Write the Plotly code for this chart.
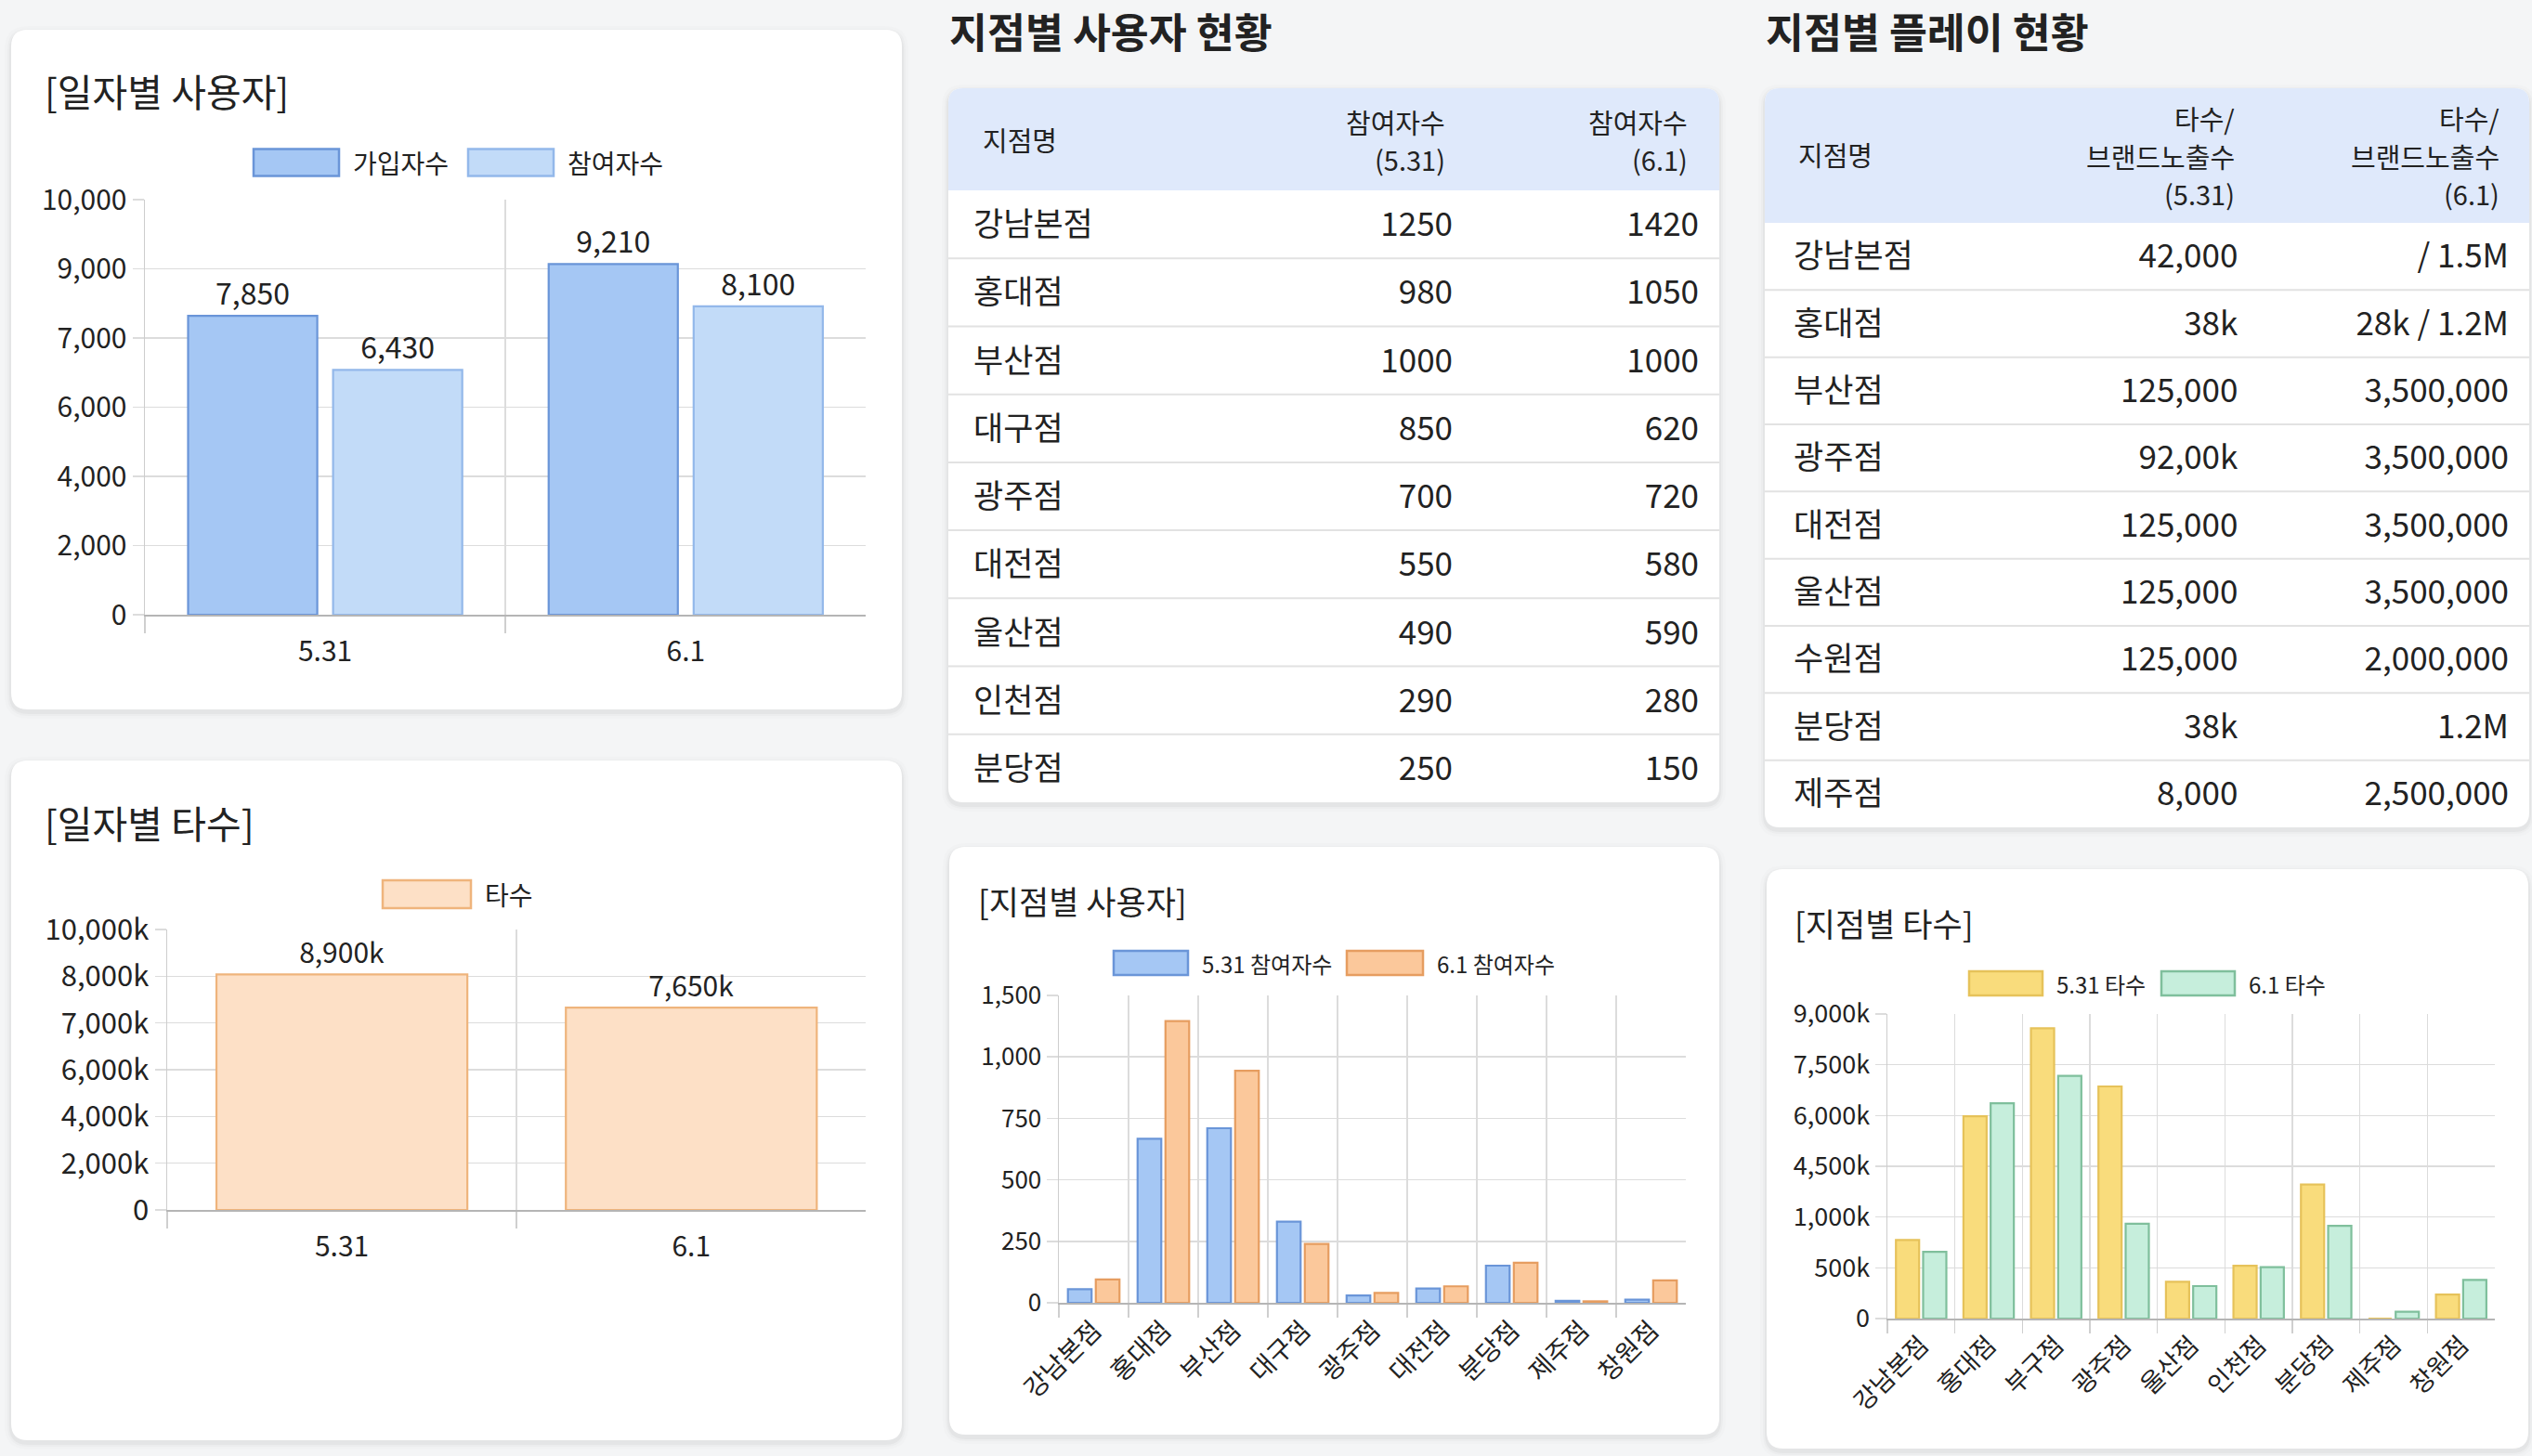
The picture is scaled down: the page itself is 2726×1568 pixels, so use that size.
import numpy as np
import plotly.graph_objects as go

W, H = 2726, 1568
FONT = "Noto Sans CJK KR"
TXT = "#222222"

# ---------------- data ----------------
daily_dates = ["5.31", "6.1"]
daily_signups = [7850, 9210]
daily_participants = [6430, 8100]
daily_users_ticktext = ["0", "2,000", "4,000", "6,000", "7,000", "9,000", "10,000"]

daily_strokes_k = [8900, 7650]
daily_strokes_ticktext = ["0", "2,000k", "4,000k", "6,000k", "7,000k", "8,000k", "10,000k"]

t1_branches = ["강남본점", "홍대점", "부산점", "대구점", "광주점", "대전점", "울산점", "인천점", "분당점"]
t1_part_531 = [1250, 980, 1000, 850, 700, 550, 490, 290, 250]
t1_part_61 = [1420, 1050, 1000, 620, 720, 580, 590, 280, 150]
t1_headers = [["지점명"], ["참여자수", "(5.31)"], ["참여자수", "(6.1)"]]

t2_branches = ["강남본점", "홍대점", "부산점", "광주점", "대전점", "울산점", "수원점", "분당점", "제주점"]
t2_531 = ["42,000", "38k", "125,000", "92,00k", "125,000", "125,000", "125,000", "38k", "8,000"]
t2_61 = ["/ 1.5M", "28k / 1.2M", "3,500,000", "3,500,000", "3,500,000", "3,500,000", "2,000,000", "1.2M", "2,500,000"]
t2_headers = [["지점명"], ["타수/", "브랜드노출수", "(5.31)"], ["타수/", "브랜드노출수", "(6.1)"]]

bu_cats = ["강남본점", "홍대점", "부산점", "대구점", "광주점", "대전점", "분당점", "제주점", "창원점"]
bu_531 = [55, 667, 710, 330, 30, 58, 151, 8, 13]
bu_61 = [95, 1146, 944, 239, 40, 67, 163, 6, 91]
bu_ticktext = ["0", "250", "500", "750", "1,000", "1,500"]

bs_cats = ["강남본점", "홍대점", "부구점", "광주점", "울산점", "인천점", "분당점", "제주점", "창원점"]
bs_531_k = [2320, 5980, 8580, 6860, 1090, 1560, 3960, 0, 710]
bs_61_k = [1970, 6360, 7170, 2800, 960, 1520, 2740, 200, 1140]
bs_ticktext = ["0", "500k", "1,000k", "4,500k", "6,000k", "7,500k", "9,000k"]

# ---------------- styles ----------------
BLUE = dict(fill="#a5c7f4", line="#6a95d8")
LBLUE = dict(fill="#c2dbf8", line="#93b8ea")
ORANGE = dict(fill="#fbc89b", line="#e69d60")
PEACH = dict(fill="#fde0c6", line="#efb47c")
YELLOW = dict(fill="#f9dc7c", line="#e6c25a")
GREEN = dict(fill="#c6eedc", line="#7fbf9c")


def X(px):
    return px / W


def Y(py):
    return 1 - py / H


def rrect_path(x0, y0, x1, y1, r, top_only=False):
    L, R, T, B = X(x0), X(x1), Y(y0), Y(y1)
    rx, ry = r / W, r / H
    p = f"M {L+rx},{T} L {R-rx},{T} Q {R},{T} {R},{T-ry} "
    if top_only:
        p += f"L {R},{B} L {L},{B} "
    else:
        p += f"L {R},{B+ry} Q {R},{B} {R-rx},{B} L {L+rx},{B} Q {L},{B} {L},{B+ry} "
    p += f"L {L},{T-ry} Q {L},{T} {L+rx},{T} Z"
    return p


fig = go.Figure()
shapes = []
annotations = []


def card(x0, y0, x1, y1, r=18):
    for e, a in [(7, 0.012), (4, 0.02), (2, 0.03)]:
        shapes.append(dict(type="path", xref="paper", yref="paper", layer="below",
                           path=rrect_path(x0 - e, y0 - e + 3, x1 + e, y1 + e + 3, r + e),
                           fillcolor=f"rgba(0,0,0,{a})", line=dict(width=0)))
    shapes.append(dict(type="path", xref="paper", yref="paper", layer="below",
                       path=rrect_path(x0, y0, x1, y1, r), fillcolor="white",
                       line=dict(width=0)))


def text(x, y, s, size, bold=False, anchor="left"):
    annotations.append(dict(xref="paper", yref="paper", x=X(x), y=Y(y), text=(f"<b>{s}</b>" if bold else s),
                            showarrow=False, xanchor=anchor, yanchor="middle", align=anchor,
                            font=dict(family=FONT, size=size, color=TXT)))


def header_lines(x, ys, lines, size, anchor):
    for yy, s in zip(ys, lines):
        text(x, yy, s, size, anchor=anchor)


def legend_item(x0, x1, yc, h, style, label, size):
    shapes.append(dict(type="rect", xref="paper", yref="paper", layer="below",
                       x0=X(x0), x1=X(x1), y0=Y(yc + h / 2), y1=Y(yc - h / 2),
                       fillcolor=style["fill"], line=dict(color=style["line"], width=2.5)))
    text(x1 + 13, yc, label, size)


# cards
card(12, 32, 971, 764)
card(12, 819, 971, 1551)
card(1022, 912, 1851, 1545)
card(1902, 936, 2722, 1560)
card(1021, 95, 1851, 864, 16)
card(1900, 95, 2723, 891, 16)

# table header backgrounds & separators
shapes.append(dict(type="path", xref="paper", yref="paper", layer="below",
                   path=rrect_path(1021, 95, 1851, 205, 16, top_only=True),
                   fillcolor="#dfe9fb", line=dict(width=0)))
shapes.append(dict(type="path", xref="paper", yref="paper", layer="below",
                   path=rrect_path(1900, 95, 2723, 240, 16, top_only=True),
                   fillcolor="#dfe9fb", line=dict(width=0)))
ROW1 = (864 - 205) / 9
ROW2 = (891 - 240) / 9
for i in range(1, 9):
    yy = 205 + i * ROW1
    shapes.append(dict(type="line", xref="paper", yref="paper", layer="below",
                       x0=X(1021), x1=X(1851), y0=Y(yy), y1=Y(yy), line=dict(color="#e2e2e2", width=2)))
    yy = 240 + i * ROW2
    shapes.append(dict(type="line", xref="paper", yref="paper", layer="below",
                       x0=X(1900), x1=X(2723), y0=Y(yy), y1=Y(yy), line=dict(color="#e2e2e2", width=2)))

# headings / titles
text(1020, 33, "지점별 사용자 현황", 44.5, bold=True)
text(1899, 33, "지점별 플레이 현황", 44.5, bold=True)
text(46, 97, "[일자별 사용자]", 41)
text(46, 885, "[일자별 타수]", 41)
text(1051, 969, "[지점별 사용자]", 35)
text(1930, 993, "[지점별 타수]", 35)

# table header labels
HF = 29
header_lines(1056, [150], t1_headers[0], HF, "left")
header_lines(1558, [131, 171], t1_headers[1], HF, "right")
header_lines(1819, [131, 171], t1_headers[2], HF, "right")
header_lines(1934, [166], t2_headers[0], HF, "left")
header_lines(2408, [127, 168, 208], t2_headers[1], HF, "right")
header_lines(2693, [127, 168, 208], t2_headers[2], HF, "right")

# legends
legend_item(273, 365, 175, 29, BLUE, "가입자수", 28)
legend_item(504, 596, 175, 29, LBLUE, "참여자수", 28)
legend_item(412, 507, 963, 30, PEACH, "타수", 28)
legend_item(1199, 1279, 1037, 26, BLUE, "5.31 참여자수", 24)
legend_item(1450, 1532, 1037, 26, ORANGE, "6.1 참여자수", 24)
legend_item(2120, 2199, 1059, 26, YELLOW, "5.31 타수", 24)
legend_item(2327, 2406, 1059, 26, GREEN, "6.1 타수", 24)


def bar(x, y, style, xa, ya, width, offset, labels=None, tsize=30):
    kw = {}
    if labels is not None:
        kw = dict(text=labels, textposition="outside", cliponaxis=False, constraintext="none",
                  textfont=dict(family=FONT, size=tsize, color=TXT))
    fig.add_trace(go.Bar(x=x, y=y, xaxis=xa, yaxis=ya, showlegend=False, hoverinfo="skip",
                         width=width, offset=offset,
                         marker=dict(color=style["fill"], line=dict(color=style["line"], width=2.2)),
                         **kw))


def pair_geom(cat_px, bar_px, gap_px):
    w = bar_px / cat_px
    g = gap_px / cat_px
    o1 = -(2 * w + g) / 2
    return w, o1, o1 + w + g


w1, o1a, o1b = pair_geom(388, 139, 17)
bar(daily_dates, daily_signups, BLUE, "x", "y", w1, o1a, [f"{v:,}" for v in daily_signups], 32)
bar(daily_dates, daily_participants, LBLUE, "x", "y", w1, o1b, [f"{v:,}" for v in daily_participants], 32)
w2 = 270 / 376
bar(daily_dates, daily_strokes_k, PEACH, "x2", "y2", w2, -w2 / 2, [f"{v:,}k" for v in daily_strokes_k], 30)
w3, o3a, o3b = pair_geom(75, 25.5, 4.5)
bar(bu_cats, bu_531, BLUE, "x3", "y3", w3, o3a)
bar(bu_cats, bu_61, ORANGE, "x3", "y3", w3, o3b)
w4, o4a, o4b = pair_geom(72.7, 25, 4.3)
bar(bs_cats, bs_531_k, YELLOW, "x4", "y4", w4, o4a)
bar(bs_cats, bs_61_k, GREEN, "x4", "y4", w4, o4b)


def axes(n, xd, yd, ymax, ticktext, ncat, tsize, xsize, angle=0, xticklen=18, standoff=0):
    sx = "" if n == 1 else str(n)
    tickvals = list(np.linspace(0, ymax, len(ticktext)))
    xa = dict(domain=[X(xd[0]), X(xd[1])], anchor="y" + sx, range=[-0.5, ncat - 0.501],
              type="category", tickson="boundaries", showgrid=True, gridcolor="#dcdcdc", gridwidth=1.5,
              ticks="outside", ticklen=xticklen, tickcolor="#cfcfcf", tickwidth=1.5,
              showline=True, linecolor="#b5b5b5", linewidth=2, automargin=False,
              ticklabelstandoff=standoff,
              tickangle=angle, tickfont=dict(family=FONT, size=xsize, color=TXT), fixedrange=True)
    ya = dict(domain=[Y(yd[1]), Y(yd[0])], anchor="x" + sx, range=[0, ymax],
              tickvals=tickvals, ticktext=ticktext, showgrid=True, gridcolor="#dcdcdc", gridwidth=1.5,
              ticks="outside", ticklen=12, tickcolor="#dcdcdc", tickwidth=1.5, automargin=False,
              showline=True, linecolor="#cdcdcd", linewidth=1.5, zeroline=False,
              tickfont=dict(family=FONT, size=tsize, color=TXT), fixedrange=True)
    fig.update_layout({"xaxis" + sx: xa, "yaxis" + sx: ya})


axes(1, (156, 932), (215, 662), 10900, daily_users_ticktext, 2, 30, 30, standoff=12)
axes(2, (180, 932), (1001, 1303), 10600, daily_strokes_ticktext, 2, 31, 30, standoff=12)
axes(3, (1140, 1815), (1072, 1403), 1250, bu_ticktext, 9, 26, 28, angle=-45, xticklen=14)
axes(4, (2032, 2686), (1092, 1420), 9000, bs_ticktext, 9, 27, 27, angle=-45, xticklen=14)

# tables (body rows; header labels drawn above as text)
fig.add_trace(go.Table(
    domain=dict(x=[X(1040), X(1837)], y=[Y(864 + 40), Y(205 - 1)]),
    columnwidth=[340, 192, 265],
    header=dict(values=[], height=0, fill=dict(color="rgba(0,0,0,0)"), line=dict(width=0)),
    cells=dict(values=[t1_branches, t1_part_531, t1_part_61], align=["left", "right", "right"],
               height=ROW1, fill=dict(color="rgba(0,0,0,0)"), line=dict(width=0),
               font=dict(family=FONT, size=35, color=TXT)),
))
fig.add_trace(go.Table(
    domain=dict(x=[X(1923), X(2710)], y=[Y(891 + 40), Y(240 - 2)]),
    columnwidth=[280, 215, 292],
    header=dict(values=[], height=0, fill=dict(color="rgba(0,0,0,0)"), line=dict(width=0)),
    cells=dict(values=[t2_branches, t2_531, t2_61], align=["left", "right", "right"],
               height=ROW2, fill=dict(color="rgba(0,0,0,0)"), line=dict(width=0),
               font=dict(family=FONT, size=35, color=TXT)),
))

fig.update_layout(
    width=W, height=H, margin=dict(l=0, r=0, t=0, b=0, pad=0, autoexpand=False),
    paper_bgcolor="#f4f5f6", plot_bgcolor="rgba(0,0,0,0)",
    barmode="overlay",
    font=dict(family=FONT, color=TXT),
    shapes=shapes, annotations=annotations, showlegend=False,
)

fig.write_html("out.html", config={"displayModeBar": False, "staticPlot": True},
               post_script="document.body.style.margin='0';document.body.style.background='#f4f5f6';")
